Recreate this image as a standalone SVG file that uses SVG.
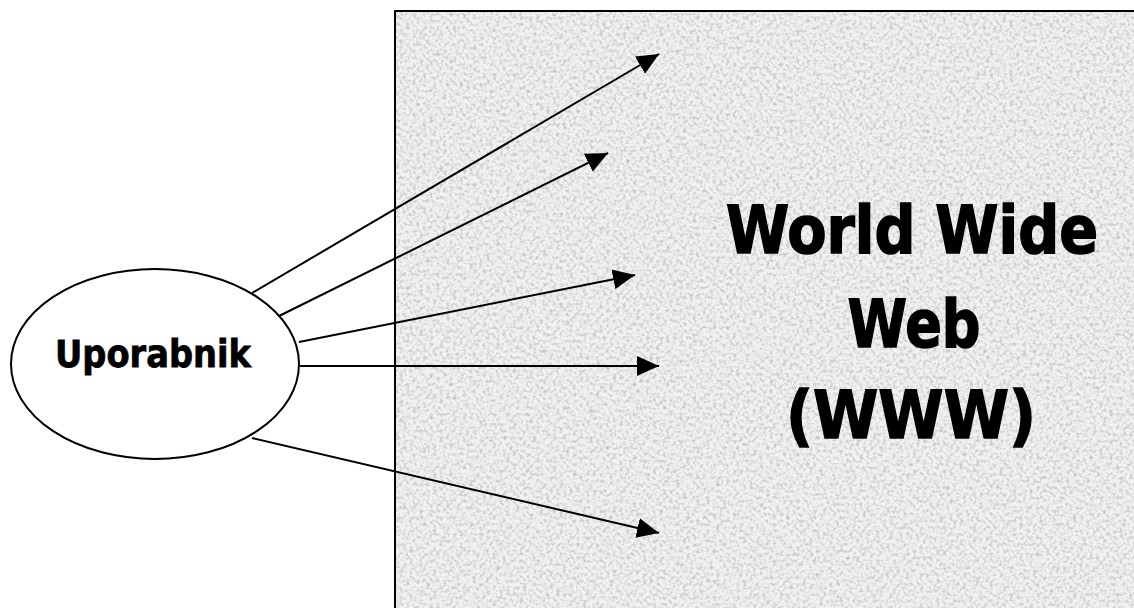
<svg xmlns="http://www.w3.org/2000/svg" width="1134" height="608" viewBox="0 0 1134 608">
  <defs>
    <filter id="grain" x="0" y="0" width="100%" height="100%">
      <feTurbulence type="fractalNoise" baseFrequency="0.3" numOctaves="2" seed="7" result="n"/>
      <feColorMatrix in="n" type="matrix" values="0 0 0 0 0  0 0 0 0 0  0 0 0 0 0  1.6 0 0 0 -0.7"/>
    </filter>
    <marker id="arrow" viewBox="0 0 22 20" markerUnits="userSpaceOnUse" markerWidth="22" markerHeight="20" refX="22" refY="10" orient="auto">
      <path d="M0,0 L22,10 L0,20 z" fill="#000"/>
    </marker>
    <style>
      .lbl { font-family: "DejaVu Sans", Verdana, sans-serif; font-weight: bold; fill: #000; stroke: #000; text-anchor: middle; }
      .conn { stroke: #000; stroke-width: 2; fill: none; marker-end: url(#arrow); }
    </style>
  </defs>

  <rect width="1134" height="608" fill="#fff"/>

  <g id="www">
    <rect x="395" y="11" width="760" height="620" fill="#f1f1f1"/>
    <rect x="395" y="11" width="760" height="620" fill="#000" filter="url(#grain)" opacity="0.3"/>
    <rect x="395" y="11" width="760" height="620" fill="none" stroke="#000" stroke-width="2"/>
    <text class="lbl" x="912" y="253" font-size="66" stroke-width="1.6" textLength="372" lengthAdjust="spacingAndGlyphs">World Wide</text>
    <text class="lbl" x="914" y="347" font-size="66" stroke-width="1.6" textLength="133" lengthAdjust="spacingAndGlyphs">Web</text>
    <text class="lbl" x="911" y="438" font-size="66" stroke-width="1.6" textLength="250" lengthAdjust="spacingAndGlyphs">(WWW)</text>
  </g>

  <g id="connectors">
    <line class="conn" x1="252" y1="293" x2="659" y2="54"/>
    <line class="conn" x1="275" y1="318" x2="608" y2="153"/>
    <line class="conn" x1="299" y1="342" x2="635" y2="275"/>
    <line class="conn" x1="300" y1="366" x2="659" y2="366"/>
    <line class="conn" x1="252" y1="438" x2="659" y2="533"/>
  </g>

  <g id="uporabnik">
    <ellipse cx="155" cy="364" rx="144" ry="95" fill="#fff" stroke="#000" stroke-width="2"/>
    <text class="lbl" x="153" y="367" font-size="37" stroke-width="0.8" textLength="196" lengthAdjust="spacingAndGlyphs">Uporabnik</text>
  </g>
</svg>
